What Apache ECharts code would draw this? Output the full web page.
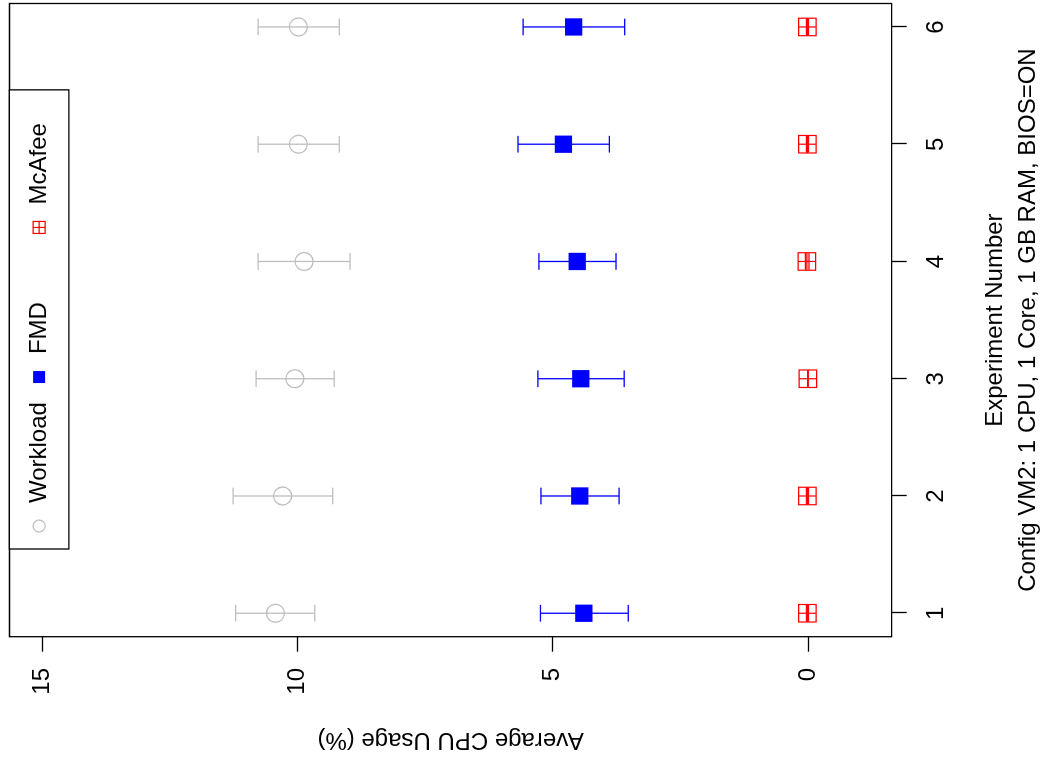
<!DOCTYPE html>
<html>
<head>
<meta charset="utf-8">
<script src="https://cdn.jsdelivr.net/npm/echarts@6/dist/echarts.min.js"></script>
<style>
  html, body { margin: 0; padding: 0; width: 1040px; height: 761px; overflow: hidden; background: #fff; }
  #chart { position: absolute; left: 0; top: 0; width: 761px; height: 1040px;
           transform-origin: 0 0; transform: translate(0px, 761px) rotate(-90deg); }
</style>
</head>
<body>
<div id="chart"></div>
<script>
// ---- data ----
const experiments = [1, 2, 3, 4, 5, 6];
const xTickValues = [1, 2, 3, 4, 5, 6];
const yTickValues = [0, 5, 10, 15];

const workloadMean = [10.43, 10.29, 10.05, 9.87, 9.98, 9.98];
const workloadLow  = [9.66, 9.31, 9.28, 8.97, 9.18, 9.18];
const workloadHigh = [11.21, 11.26, 10.81, 10.77, 10.77, 10.77];

const fmdMean = [4.39, 4.47, 4.45, 4.52, 4.79, 4.59];
const fmdLow  = [3.52, 3.70, 3.60, 3.76, 3.89, 3.59];
const fmdHigh = [5.24, 5.23, 5.29, 5.27, 5.68, 5.58];

const mcafeeMean = [0.01, 0.01, 0.00, 0.02, 0.01, 0.01];
const mcafeeLow  = [-0.01, -0.01, 0.00, -0.02, -0.01, -0.01];
const mcafeeHigh = [0.03, 0.03, 0.00, 0.05, 0.03, 0.03];

const seriesNames = ['Workload', 'FMD', 'McAfee'];
const xTitle = 'Experiment Number\nConfig VM2: 1 CPU, 1 Core, 1 GB RAM, BIOS=ON';
const yTitle = 'Average CPU Usage (%)';

// ---- styling ----
const FONT = '"Liberation Sans", Arial, Helvetica, sans-serif';
const GREY = '#BEBEBE', BLUE = '#0000FF', RED = '#FF0000';
const SQPLUS = 'path://M0,0H10V10H0ZM5,0V10M0,5H10';

function pts(means) { return experiments.map((e, i) => [e, means[i]]); }
function bars(lo, hi) { return experiments.map((e, i) => [e, lo[i], hi[i]]); }

function errorBars(color) {
  return function (params, api) {
    const x = api.value(0), lo = api.value(1), hi = api.value(2);
    const a = api.coord([x, lo]), b = api.coord([x, hi]);
    const c = 8.35;
    const st = { stroke: color, lineWidth: 1.3, fill: null };
    const children = [];
    if (Math.abs(a[1] - b[1]) > 0.01) {
      children.push({ type: 'line', shape: { x1: a[0], y1: a[1], x2: b[0], y2: b[1] }, style: st });
    }
    children.push({ type: 'line', shape: { x1: a[0] - c, y1: a[1], x2: a[0] + c, y2: a[1] }, style: st });
    children.push({ type: 'line', shape: { x1: b[0] - c, y1: b[1], x2: b[0] + c, y2: b[1] }, style: st });
    return { type: 'group', children: children };
  };
}

const chart = echarts.init(document.getElementById('chart'), null, { renderer: 'canvas' });

chart.setOption({
  animation: false,
  backgroundColor: '#ffffff',
  textStyle: { fontFamily: FONT, color: '#000' },
  grid: {
    left: 124.3, right: 3.5, top: 9.5, bottom: 148.3,
    outerBoundsMode: 'none', containLabel: false,
    show: true, borderColor: '#000', borderWidth: 1.3, backgroundColor: 'transparent'
  },
  legend: {
    left: 212, top: 9.3,
    orient: 'horizontal',
    backgroundColor: '#fff',
    borderColor: '#000', borderWidth: 1.3, borderRadius: 0,
    padding: [17.8, 13, 17.8, 16.3],
    itemGap: 18.4,
    itemWidth: 12, itemHeight: 12,
    selectedMode: false,
    textStyle: { fontFamily: FONT, fontSize: 24, lineHeight: 24, color: '#000', width: 101.6, padding: [0, 0, 0, 12] },
    data: [
      { name: 'Workload', icon: 'circle', itemStyle: { color: 'rgba(0,0,0,0)', borderColor: GREY, borderWidth: 1.3 } },
      { name: 'FMD', icon: 'rect', itemStyle: { color: BLUE, borderWidth: 0 } },
      { name: 'McAfee', icon: SQPLUS, itemStyle: { color: 'rgba(0,0,0,0)', borderColor: RED, borderWidth: 1.2 } }
    ]
  },
  xAxis: {
    type: 'value', min: 0.8, max: 6.2,
    name: xTitle, nameLocation: 'middle', nameGap: 87,
    nameTextStyle: { fontFamily: FONT, fontSize: 24, lineHeight: 33, color: '#000' },
    axisLine: { show: false, onZero: false },
    axisTick: { show: true, length: 15, inside: false, customValues: xTickValues, lineStyle: { color: '#000', width: 1.3 } },
    axisLabel: { show: true, customValues: xTickValues, margin: 33, fontFamily: FONT, fontSize: 24, lineHeight: 24, color: '#000',
                 formatter: v => String(Math.round(v)) },
    splitLine: { show: false }
  },
  yAxis: {
    type: 'value', min: -1.64, max: 15.64,
    name: yTitle, nameLocation: 'middle', nameGap: 91, nameRotate: 90,
    nameTextStyle: { fontFamily: FONT, fontSize: 24, lineHeight: 24, color: '#000' },
    axisLine: { show: false, onZero: false },
    axisTick: { show: true, length: 15, inside: false, customValues: yTickValues, lineStyle: { color: '#000', width: 1.3 } },
    axisLabel: { show: true, customValues: yTickValues, margin: 31.3, fontFamily: FONT, fontSize: 24, lineHeight: 24, color: '#000',
                 formatter: v => String(Math.round(v)) },
    splitLine: { show: false }
  },
  series: [
    { name: 'Workload-err', type: 'custom', renderItem: errorBars(GREY), data: bars(workloadLow, workloadHigh),
      encode: { x: 0, y: [1, 2] }, silent: true, z: 2 },
    { name: 'FMD-err', type: 'custom', renderItem: errorBars(BLUE), data: bars(fmdLow, fmdHigh),
      encode: { x: 0, y: [1, 2] }, silent: true, z: 2 },
    { name: 'McAfee-err', type: 'custom', renderItem: errorBars(RED), data: bars(mcafeeLow, mcafeeHigh),
      encode: { x: 0, y: [1, 2] }, silent: true, z: 2 },
    { name: 'Workload', type: 'scatter', data: pts(workloadMean), symbol: 'circle', symbolSize: 18,
      itemStyle: { color: 'rgba(0,0,0,0)', borderColor: GREY, borderWidth: 1.3, opacity: 1 }, silent: true, z: 3 },
    { name: 'FMD', type: 'scatter', data: pts(fmdMean), symbol: 'rect', symbolSize: 17.3,
      itemStyle: { color: BLUE, borderWidth: 0, opacity: 1 }, silent: true, z: 3 },
    { name: 'McAfee', type: 'scatter', data: pts(mcafeeMean), symbol: SQPLUS, symbolSize: 17.5,
      itemStyle: { color: 'rgba(0,0,0,0)', borderColor: RED, borderWidth: 1.2, opacity: 1 }, silent: true, z: 3 }
  ]
});
</script>
</body>
</html>
